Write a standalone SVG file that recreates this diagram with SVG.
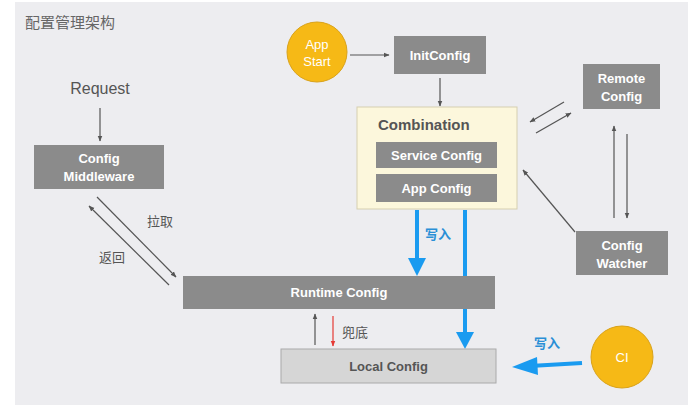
<svg xmlns="http://www.w3.org/2000/svg" width="688" height="407" viewBox="0 0 688 407">
<style>
.box{fill:#8b8b8b;}
.bt{fill:#fff;font-family:"Liberation Sans",Arial,sans-serif;font-size:13px;font-weight:bold;text-anchor:middle;}
.ct{fill:#fff;font-family:"Liberation Sans",Arial,sans-serif;font-size:13px;text-anchor:middle;}
.ln{stroke:#555;stroke-width:1.2;fill:none;}
.blue{stroke:#1a9bf0;stroke-width:4;fill:none;}
.lbl{fill:#555;font-family:"Liberation Sans","Noto Sans CJK SC",sans-serif;font-size:13px;}
.bl{fill:#2a8fd6;font-family:"Liberation Sans","Noto Sans CJK SC",sans-serif;font-size:13px;font-weight:bold;}
</style>
<defs>
<marker id="ah" viewBox="0 0 10 10" refX="9" refY="5" markerWidth="6" markerHeight="6" orient="auto-start-reverse" markerUnits="userSpaceOnUse"><path d="M0,1 L10,5 L0,9 z" fill="#555"/></marker>
<marker id="ahr" viewBox="0 0 10 10" refX="9" refY="5" markerWidth="6" markerHeight="6" orient="auto" markerUnits="userSpaceOnUse"><path d="M0,1 L10,5 L0,9 z" fill="#e53935"/></marker>
</defs>
<rect x="15" y="2" width="673" height="403" fill="#ededf0"/>
<text x="25" y="28" fill="#666" font-family="'Noto Sans CJK SC',sans-serif" font-size="15">配置管理架构</text>
<text x="100" y="94" fill="#555" font-family="'Liberation Sans',Arial,sans-serif" font-size="16" text-anchor="middle">Request</text>

<g id="connectors">
<line class="ln" x1="100" y1="108" x2="100" y2="141" marker-end="url(#ah)"/>
<line class="ln" x1="97" y1="197" x2="176" y2="277" marker-end="url(#ah)"/>
<line class="ln" x1="169" y1="285" x2="89" y2="206" marker-end="url(#ah)"/>
<line class="ln" x1="350" y1="55" x2="389" y2="55" marker-end="url(#ah)"/>
<line class="ln" x1="440" y1="78" x2="440" y2="106" marker-end="url(#ah)"/>
<line class="ln" x1="564" y1="102" x2="530" y2="122" marker-end="url(#ah)"/>
<line class="ln" x1="536" y1="133" x2="571" y2="113" marker-end="url(#ah)"/>
<line class="ln" x1="614" y1="218" x2="614" y2="126" marker-end="url(#ah)"/>
<line class="ln" x1="627" y1="134" x2="627" y2="218" marker-end="url(#ah)"/>
<line class="ln" x1="575" y1="232" x2="523" y2="170" marker-end="url(#ah)"/>
<line class="ln" x1="315" y1="345" x2="315" y2="314" marker-end="url(#ah)"/>
<line x1="333" y1="316" x2="333" y2="346" stroke="#e53935" stroke-width="1.2" marker-end="url(#ahr)"/>
<line class="blue" x1="417" y1="210" x2="417" y2="260"/>
<path d="M408,258 L426,258 L417,276 z" fill="#1a9bf0"/>
<line class="blue" x1="465" y1="210" x2="465" y2="334"/>
<path d="M456,332 L474,332 L465,349 z" fill="#1a9bf0"/>
<line class="blue" x1="582" y1="363" x2="530" y2="366"/>
<path d="M537,357 L538,375 L512,367 z" fill="#1a9bf0"/>
<text class="lbl" x="147" y="226">拉取</text>
<text class="lbl" x="99" y="262">返回</text>
<text class="lbl" x="342" y="337">兜底</text>
<text class="bl" x="425" y="239">写入</text>
<text class="bl" x="534" y="348">写入</text>
</g>

<g id="config-middleware">
<rect class="box" x="34" y="145" width="130" height="44"/>
<text class="bt" x="99" y="163">Config</text>
<text class="bt" x="99" y="181">Middleware</text>
</g>

<g id="app-start">
<circle cx="317" cy="52" r="30" fill="#f6b916" stroke="#d9a21a" stroke-width="1"/>
<text class="ct" x="317" y="49">App</text>
<text class="ct" x="317" y="66">Start</text>
</g>

<g id="initconfig">
<rect class="box" x="394" y="36" width="92" height="38"/>
<text class="bt" x="440" y="60">InitConfig</text>
</g>

<g id="combination">
<rect x="357" y="107" width="160" height="102" fill="#fcf7dc" stroke="#d6cfb0" stroke-width="1"/>
<text x="378" y="130" fill="#555" font-family="'Liberation Sans',Arial,sans-serif" font-size="15" font-weight="bold">Combination</text>
</g>

<g id="service-config">
<rect class="box" x="376" y="142" width="121" height="26"/>
<text class="bt" x="436.5" y="160">Service Config</text>
</g>

<g id="app-config">
<rect class="box" x="376" y="174" width="121" height="28"/>
<text class="bt" x="436.5" y="193">App Config</text>
</g>

<g id="remote-config">
<rect class="box" x="583" y="64" width="77" height="45"/>
<text class="bt" x="621.5" y="83">Remote</text>
<text class="bt" x="621.5" y="101">Config</text>
</g>

<g id="config-watcher">
<rect class="box" x="576" y="231" width="92" height="44"/>
<text class="bt" x="622" y="250">Config</text>
<text class="bt" x="622" y="268">Watcher</text>
</g>

<g id="runtime-config">
<rect class="box" x="183" y="276" width="312" height="33"/>
<text class="bt" x="339" y="297">Runtime Config</text>
</g>

<g id="local-config">
<rect x="281" y="349" width="215" height="34" fill="#d6d6d6" stroke="#aaa" stroke-width="1"/>
<text class="bt" x="388.5" y="371" style="fill:#555">Local Config</text>
</g>

<g id="ci">
<circle cx="622" cy="357" r="31" fill="#f6b916" stroke="#d9a21a" stroke-width="1"/>
<text class="ct" x="622" y="362">CI</text>
</g>
</svg>
